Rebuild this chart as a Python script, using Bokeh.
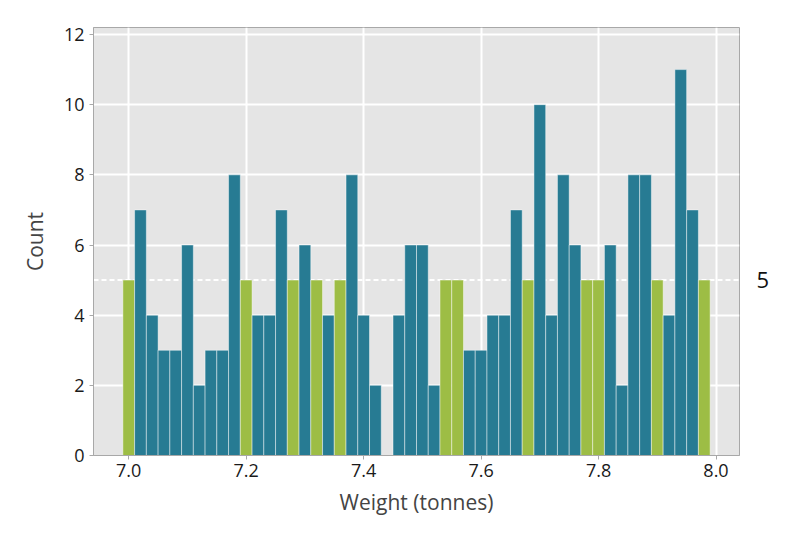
from bokeh.plotting import figure
from bokeh.models import (ColumnDataSource, FixedTicker, Span, Range1d,
                          CustomJSTickFormatter, LinearAxis)
from bokeh.embed import file_html
from bokeh.resources import INLINE

# Histogram of weights (tonnes), bin width 0.02
bin_width = 0.02
bin_starts = [round(6.99 + i * bin_width, 2) for i in range(50)]
counts = [5, 7, 4, 3, 3, 6, 2, 3, 3, 8,
          5, 4, 4, 7, 5, 6, 5, 4, 5, 8,
          4, 2, 0, 4, 6, 6, 2, 5, 5, 3,
          3, 4, 4, 7, 5, 10, 4, 8, 6, 5,
          5, 6, 2, 8, 8, 5, 4, 11, 7, 5]
highlight_value = 5
x_ticks = [7.0, 7.2, 7.4, 7.6, 7.8, 8.0]
y_ticks = [0, 2, 4, 6, 8, 10, 12]

TEAL = "#277b93"
GREEN = "#9dbd45"

colors = [GREEN if c == highlight_value else TEAL for c in counts]
src = ColumnDataSource(dict(
    left=bin_starts,
    right=[b + bin_width for b in bin_starts],
    top=counts,
    bottom=[0] * len(counts),
    color=colors,
))

p = figure(width=800, height=534, output_backend="svg", toolbar_location=None,
           x_range=Range1d(6.94, 8.04), y_range=Range1d(0, 12.2),
           min_border_left=93, min_border_right=61, min_border_top=27, min_border_bottom=79)

p.background_fill_color = "#e5e5e5"
p.border_fill_color = "white"
p.outline_line_color = "#a8a8a8"
p.outline_line_width = 1

p.xgrid.grid_line_color = "white"
p.ygrid.grid_line_color = "white"
p.xgrid.grid_line_width = 2
p.ygrid.grid_line_width = 2

threshold = Span(location=highlight_value, dimension="width", line_color="white",
                 line_dash="5 3", line_width=2, level="underlay")
p.add_layout(threshold)

p.quad(left="left", right="right", top="top", bottom="bottom", source=src,
       fill_color="color", line_color="white", line_alpha=0.45, line_width=1)

p.xaxis.ticker = FixedTicker(ticks=x_ticks)
p.yaxis.ticker = FixedTicker(ticks=y_ticks)
p.xaxis.formatter = CustomJSTickFormatter(code="return tick.toFixed(1);")
p.yaxis.formatter = CustomJSTickFormatter(code="return tick.toFixed(0);")

for ax in (p.xaxis, p.yaxis):
    ax.axis_line_color = "#a8a8a8"
    ax.major_tick_line_color = "#a8a8a8"
    ax.major_tick_in = 0
    ax.major_tick_out = 4
    ax.minor_tick_line_color = None
    ax.major_label_text_font = "Open Sans"
    ax.major_label_text_font_size = "18px"
    ax.major_label_text_color = "#1a1a1a"
    ax.axis_label_text_font = "Open Sans"
    ax.axis_label_text_font_size = "21px"
    ax.axis_label_text_color = "#444444"
    ax.axis_label_text_font_style = "normal"

p.xaxis.axis_label = "Weight (tonnes)"
p.yaxis.axis_label = "Count"
p.xaxis.major_label_standoff = 4
p.yaxis.major_label_standoff = 5
p.xaxis.axis_label_standoff = 8
p.yaxis.axis_label_standoff = 12

# right-hand marker for the highlighted count level
right_axis = LinearAxis(ticker=FixedTicker(ticks=[highlight_value]),
                        formatter=CustomJSTickFormatter(code="return tick.toFixed(0);"))
right_axis.axis_line_color = None
right_axis.major_tick_line_color = None
right_axis.minor_tick_line_color = None
right_axis.major_label_standoff = 11
right_axis.major_label_text_font = "Open Sans"
right_axis.major_label_text_font_size = "22px"
right_axis.major_label_text_color = "#111111"
p.add_layout(right_axis, "right")

open("out.html", "w").write(file_html(p, INLINE))
